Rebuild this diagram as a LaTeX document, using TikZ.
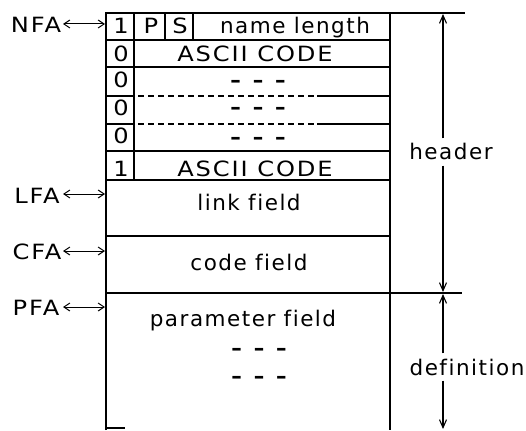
\documentclass[tikz,border=0pt]{standalone}
\usepackage{fontspec}
\setmainfont{DejaVu Sans}[LetterSpace=7,Ligatures=NoCommon]
\newfontfamily\capsfont{DejaVu Sans}[LetterSpace=9,FakeStretch=1.15,Ligatures=NoCommon]
\usetikzlibrary{arrows.meta}
\newcommand{\tridash}{–\kern3pt\ –\kern3pt\ –}
\begin{document}
\begin{tikzpicture}[x=1pt,y=-1pt,
  lab/.style={font=\fontsize{21.5}{23}\selectfont, inner sep=0pt, anchor=base},
  caps/.style={font=\fontsize{21}{23}\capsfont, inner sep=0pt, anchor=base},
  dashes/.style={font=\fontsize{21}{23}\selectfont\bfseries, inner sep=0pt, anchor=base},
  dimlab/.style={lab, inner ysep=5pt},
  frame/.style={line width=1.5pt},
  thin/.style={line width=1.1pt},
  ptr/.style={{Straight Barb[length=6pt,width=8pt]}-{Straight Barb[length=6pt,width=8pt]}, line width=1pt},
  dim/.style={-{Straight Barb[length=8pt,width=7pt]}, line width=1.1pt},
]
\useasboundingbox (0,0) rectangle (526,430);

% frame
\draw[frame] (106,430) -- (106,13) -- (390,13) -- (390,430);
\foreach \yy in {40,67,151,180,236,293}
  \draw[frame] (106,\yy) -- (390,\yy);
\foreach \yy in {96,124} {
  \draw[frame] (106,\yy) -- (134,\yy);
  \draw[thin, dash pattern=on 6pt off 4pt] (138,\yy) -- (317,\yy);
  \draw[frame] (317,\yy) -- (390,\yy);
}
\draw[frame] (134,13) -- (134,180);
\draw[frame] (165,13) -- (165,40);
\draw[frame] (193,13) -- (193,40);
\draw[thin] (390,13) -- (465,13);
\draw[thin] (390,293) -- (462,293);
\draw[thin] (106,428) -- (125,428);

% cell texts
\node[caps] (b1) at (121,34) {1};
\node[caps] (bp) at (151,34) {P};
\node[caps] (bs) at (180,34) {S};
\node[lab] (nl) at (295,34) {name length};
\node[caps] (b2) at (121,62) {0};
\node[caps] (a1) at (255,62) {ASCII CODE};
\node[caps] (b3) at (121,88) {0};
\node[dashes] (d1) at (258,88) {\tridash};
\node[caps] (b4) at (121,116) {0};
\node[dashes] (d2) at (258,115) {\tridash};
\node[caps] (b5) at (121,144) {0};
\node[dashes] (d3) at (258,145) {\tridash};
\node[caps] (b6) at (121,176) {1};
\node[caps] (a2) at (255,176) {ASCII CODE};
\node[lab] (lf) at (249,210) {link field};
\node[lab] (cf) at (249,270) {code field};
\node[lab] (pf) at (243,326) {parameter field};
\node[dashes] (d4) at (259,355) {\tridash};
\node[dashes] (d5) at (259,383) {\tridash};

% address labels and pointers
\node[caps] (NFA) at (36,33) {NFA};
\node[caps] (LFA) at (37,203) {LFA};
\node[caps] (CFA) at (37,259) {CFA};
\node[caps] (PFA) at (36,315) {PFA};
\coordinate (nfa) at (105,24);
\coordinate (lfa) at (105,194);
\coordinate (cfa) at (105,251);
\coordinate (pfa) at (105,307);
\draw[ptr] (63,24) -- (nfa);
\draw[ptr] (63,194) -- (lfa);
\draw[ptr] (63,251) -- (cfa);
\draw[ptr] (63,307) -- (pfa);

% dimension arrows
\coordinate (htop) at (443,14);
\coordinate (hbot) at (443,292);
\coordinate (dtop) at (443,294);
\coordinate (dbot) at (443,429);
\node[dimlab] (hdr) at (451,160) {header};
\node[dimlab] (def) at (467,375) {definition};
\draw[dim] (hdr.north -| htop) -- (htop);
\draw[dim] (hdr.south -| hbot) -- (hbot);
\draw[dim] (def.north -| dtop) -- (dtop);
\draw[dim] (def.south -| dbot) -- (dbot);
\end{tikzpicture}
\end{document}
